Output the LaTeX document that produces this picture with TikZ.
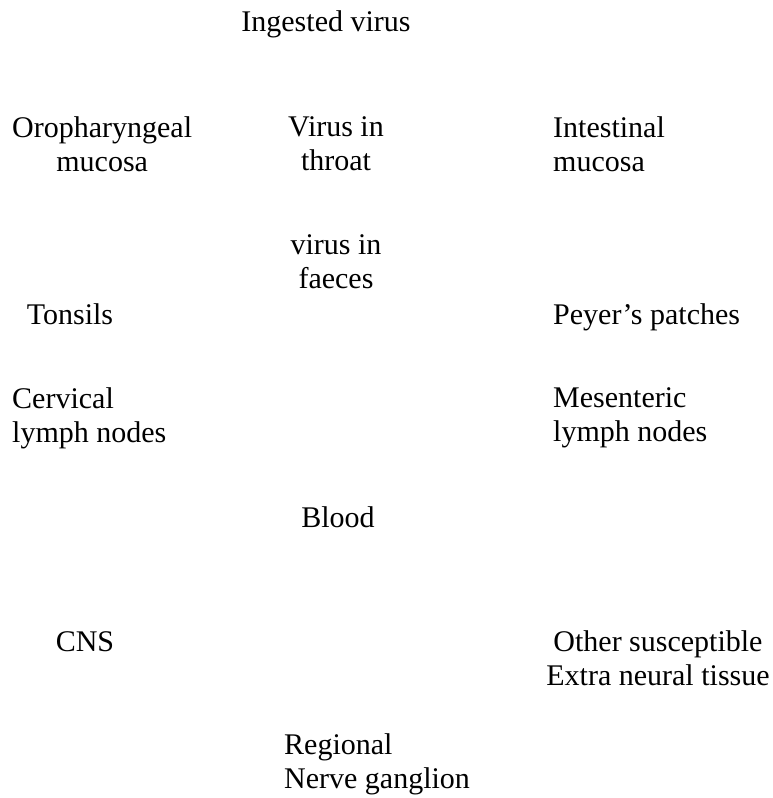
\documentclass[tikz,border=0pt]{standalone}
\usepackage{fontspec}
\setmainfont{Liberation Serif}
\usetikzlibrary{positioning}

\begin{document}
\begin{tikzpicture}[x=1pt, y=1pt]
\tikzset{lbl/.style={inner sep=0pt, align=center, font=\fontsize{30}{34}\selectfont},lleft/.style={lbl, align=left, anchor=west}}
\useasboundingbox (0,0) rectangle (773,-798);
\node[lbl] (ingested) at (326,-24) {Ingested virus};
\node[lbl, anchor=west] (oro) at (12,-144) {Oropharyngeal\\mucosa};
\node[lbl] (throat) at (336,-144) {Virus in\\throat};
\node[lleft] (intest) at (553,-144) {Intestinal\\mucosa};
\node[lbl] (faeces) at (336,-262) {virus in\\faeces};
\node[lbl, anchor=base] (tonsils) at (70,-324) {Tonsils};
\node[lleft, anchor=base west] (peyer) at (553,-324) {Peyer’s patches};
\node[lleft] (cervical) at (12,-418) {Cervical\\lymph nodes};
\node[lleft] (mesent) at (553,-418) {Mesenteric\\lymph nodes};
\node[lbl] (blood) at (338,-517) {Blood};
\node[lbl] (cns) at (85,-642) {CNS};
\node[lbl] (other) at (658,-658) {Other susceptible\\Extra neural tissue};
\node[lleft] (ganglion) at (284,-764) {Regional\\Nerve ganglion};
\end{tikzpicture}
\end{document}
